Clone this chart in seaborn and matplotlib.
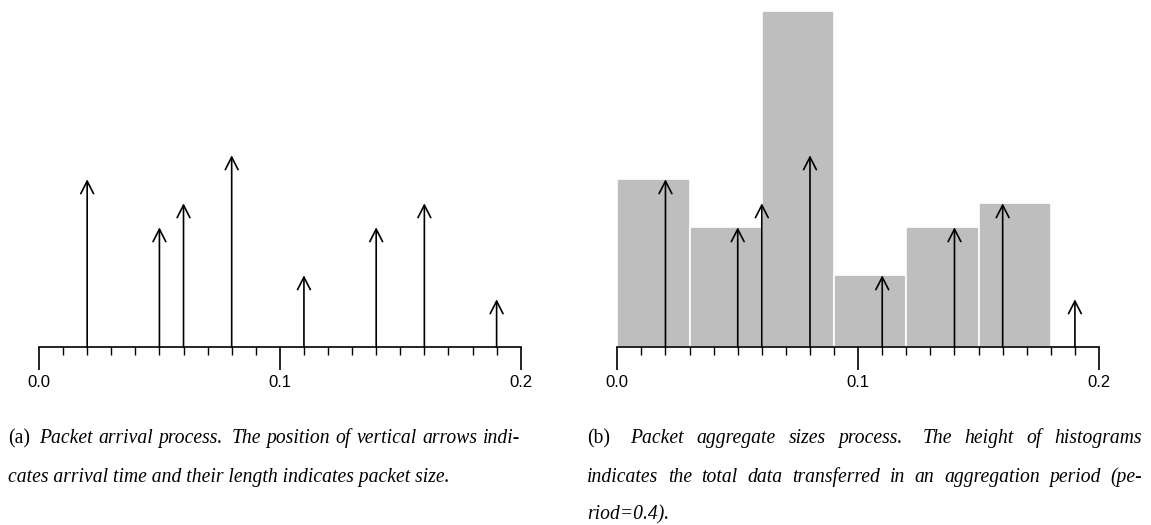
import numpy as np
import pandas as pd
import matplotlib
matplotlib.use("Agg")
import matplotlib.pyplot as plt
import seaborn as sns

# ---------------- data ----------------
arrival_time = [0.02, 0.05, 0.06, 0.08, 0.11, 0.14, 0.16, 0.19]
packet_size = [7, 5, 6, 8, 3, 5, 6, 2]
bin_edges = [0.00, 0.03, 0.06, 0.09, 0.12, 0.15, 0.18]
major_ticks = [0.0, 0.1, 0.2]
major_labels = ["0.0", "0.1", "0.2"]

caption_a = [
    [("(a)", "normal"), ("Packet", "italic"), ("arrival", "italic"), ("process.", "italic"),
     ("The", "italic"), ("position", "italic"), ("of", "italic"), ("vertical", "italic"),
     ("arrows", "italic"), ("indi-", "italic")],
    [("cates arrival time and their length indicates packet size.", "italic")],
]
caption_b = [
    [("(b)", "normal"), ("Packet", "italic"), ("aggregate", "italic"), ("sizes", "italic"),
     ("process.", "italic"), ("The", "italic"), ("height", "italic"), ("of", "italic"),
     ("histograms", "italic")],
    [("indicates", "italic"), ("the", "italic"), ("total", "italic"), ("data", "italic"),
     ("transferred", "italic"), ("in", "italic"), ("an", "italic"), ("aggregation", "italic"),
     ("period", "italic"), ("(pe-", "italic")],
    [("riod=0.4).", "italic")],
]

df = pd.DataFrame({"time": arrival_time, "size": packet_size})

# ---------------- figure ----------------
sns.set_style("white")
plt.rcParams["font.family"] = ["Liberation Sans", "DejaVu Sans"]

W, H = 1151, 525
fig = plt.figure(figsize=(W / 100, H / 100), dpi=100)

def px_axes(x0, x1, ybot, ytop):
    return fig.add_axes([x0 / W, (H - ybot) / H, (x1 - x0) / W, (ybot - ytop) / H])

ax1 = px_axes(39, 520.7, 347.3, 11.3)
ax2 = px_axes(617.3, 1099, 347.3, 11.3)

# bars of aggregated sizes
sns.histplot(data=df, x="time", weights="size", bins=bin_edges, ax=ax2,
             color="#BEBEBE", edgecolor="white", linewidth=1.2, alpha=1.0, zorder=1)

for ax in (ax1, ax2):
    for t, s in zip(df["time"], df["size"]):
        ax.annotate("", xy=(t, s), xytext=(t, 0),
                    arrowprops=dict(arrowstyle="->,head_length=9.0,head_width=4.6",
                                    mutation_scale=1, color="black", lw=1.2,
                                    shrinkA=0, shrinkB=0),
                    zorder=3, annotation_clip=False)
    ax.set_xlim(0, 0.2)
    ax.set_ylim(0, 14)
    ax.set_xlabel("")
    ax.set_ylabel("")
    ax.set_yticks([])
    for side in ("left", "right", "top"):
        ax.spines[side].set_visible(False)
    ax.spines["bottom"].set_linewidth(1.2)
    ax.spines["bottom"].set_color("black")
    ax.spines["bottom"].set_zorder(4)
    ax.set_xticks(major_ticks)
    ax.set_xticklabels(major_labels)
    ax.set_xticks(np.arange(0, 21) / 100, minor=True)
    ax.tick_params(axis="x", which="both", bottom=True, top=False)
    ax.tick_params(axis="x", which="major", direction="out", length=16.6, width=1.2,
                   color="black", labelsize=12, pad=3, labelcolor="black")
    ax.tick_params(axis="x", which="minor", direction="out", length=5.8, width=1.0,
                   color="black")
    ax.patch.set_alpha(0)

# ---------------- captions (justified) ----------------
renderer = fig.canvas.get_renderer()
serif = ["Liberation Serif", "DejaVu Serif"]

def measure(word, style, size):
    t = fig.text(0, 0, word, family=serif, style=style, fontsize=size)
    w = t.get_window_extent(renderer).width
    t.remove()
    return w

def natural_width(words, size):
    sp = measure("a b", "italic", size) - measure("ab", "italic", size)
    return sum(measure(w, s, size) for w, s in words) + sp * (len(words) - 1)

# fit font size to the caption columns
s1 = 10 * 500 / natural_width(caption_a[0], 10)
s2 = 10 * 538 / natural_width(caption_b[1], 10)
cap_size = min(s1, s2)

def draw_caption(lines, x0, x1, baselines):
    space = measure("a b", "italic", cap_size) - measure("ab", "italic", cap_size)
    for li, (words, yb) in enumerate(zip(lines, baselines)):
        widths = [measure(w, s, cap_size) for w, s in words]
        last = li == len(lines) - 1
        weights = []
        for i in range(len(words) - 1):
            w = words[i][0]
            weights.append(1.6 if (w.endswith(".") or (w.startswith("(") and w.endswith(")"))) else 1.0)
        if last or len(words) == 1:
            unit = space
        else:
            unit = (x1 - x0 - sum(widths)) / sum(weights)
        x = x0
        for i, ((w, s), wd) in enumerate(zip(words, widths)):
            fig.text(x / W, (H - yb) / H, w, family=serif, style=s, fontsize=cap_size,
                     ha="left", va="baseline", color="black")
            if i < len(weights):
                x += wd + unit * weights[i]

draw_caption(caption_a, 8, 520, [443, 482])
draw_caption(caption_b, 587, 1142, [443, 482, 519])

fig.savefig("out.png", dpi=100)
